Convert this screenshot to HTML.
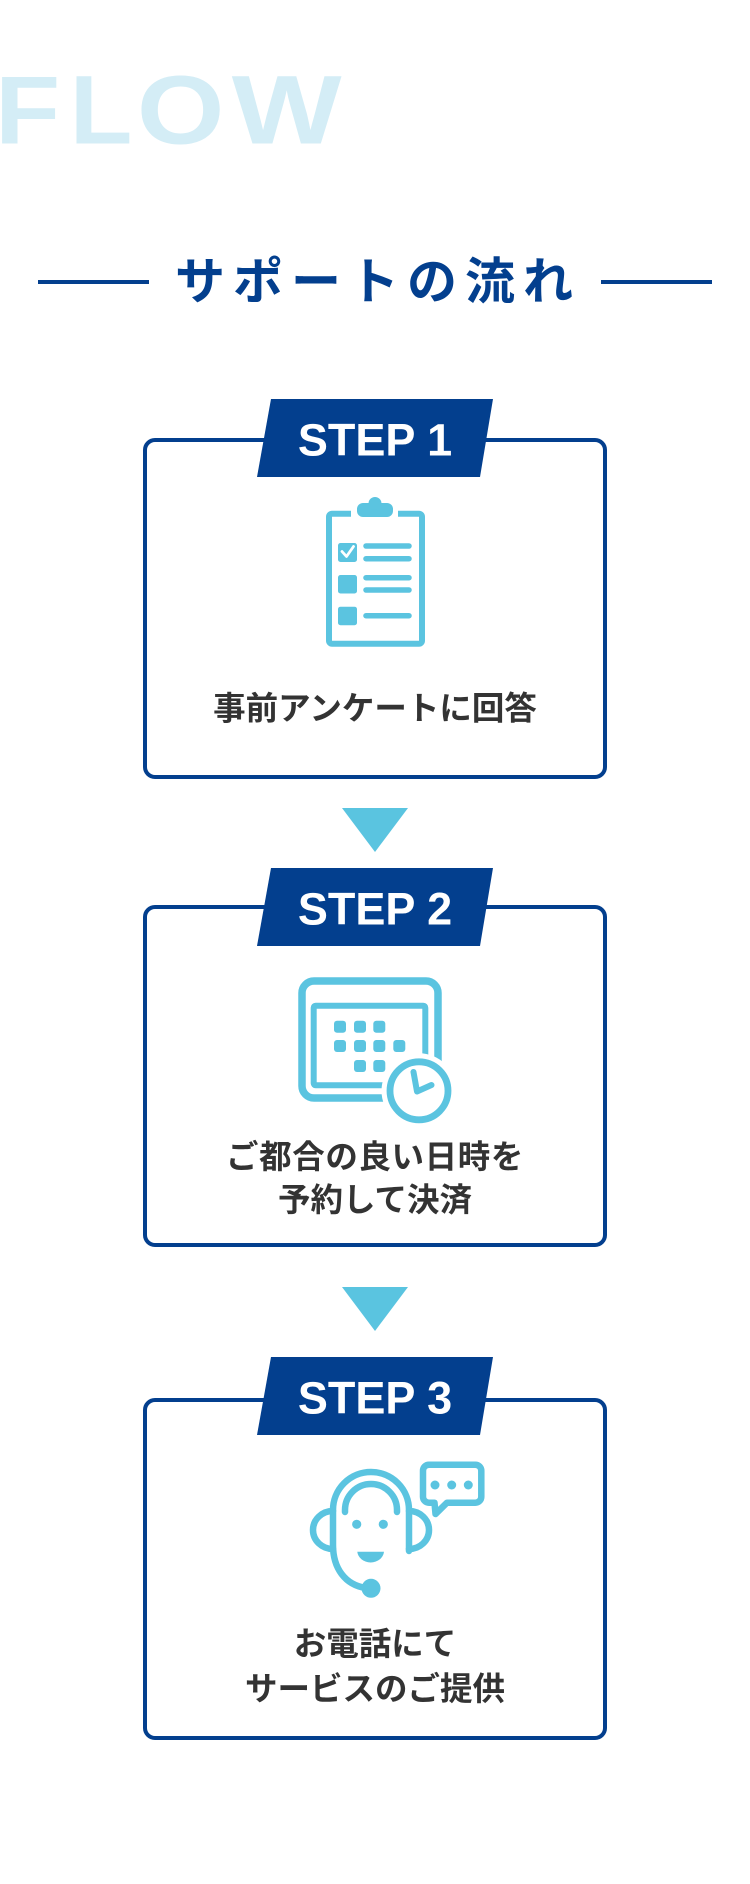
<!DOCTYPE html>
<html>
<head>
<meta charset="utf-8">
<style>
  html,body{margin:0;padding:0;background:#fff;}
  body{width:750px;height:1884px;overflow:hidden;}
  svg{display:block;}
  .jp{font-family:"Liberation Sans","Noto Sans CJK JP",sans-serif;font-weight:700;}
  .en{font-family:"Liberation Sans",sans-serif;font-weight:700;}
</style>
</head>
<body>
<svg width="750" height="1884" viewBox="0 0 750 1884" xmlns="http://www.w3.org/2000/svg">
  <!-- FLOW -->
  <g class="en" fill="#d4edf6" font-size="97">
    <text transform="translate(2.7,143.3) scale(1.1,1)" x="-7">F</text>
    <text transform="translate(77,143.3) scale(1.06,1)" x="-7">L</text>
    <text transform="translate(142,143.3) scale(1.16,1)" x="-4.4">O</text>
    <text transform="translate(233,143.3) scale(1.2,1)" x="-1">W</text>
  </g>

  <!-- Title -->
  <rect x="38" y="280" width="111" height="4" fill="#033f8e"/>
  <rect x="601" y="280" width="111" height="4" fill="#033f8e"/>
  <text class="jp" x="175" y="299" font-size="50" letter-spacing="8" fill="#033f8e">サポートの流れ</text>

  <!-- STEP 1 -->
  <rect x="145" y="440" width="460" height="337" rx="10" fill="#fff" stroke="#033f8e" stroke-width="4"/>
  <polygon points="271,399 493,399 480,477 257,477" fill="#033f8e"/>
  <text class="en" x="375" y="455.5" font-size="45" fill="#fff" text-anchor="middle">STEP 1</text>

  <!-- clipboard icon -->
  <g fill="#5bc4e0" stroke="none">
    <rect x="329" y="513.7" width="93" height="130" rx="3" fill="none" stroke="#5bc4e0" stroke-width="6"/>
    <rect x="351" y="507" width="47" height="12" fill="#fff"/>
    <rect x="357" y="503" width="36" height="14" rx="6"/>
    <circle cx="375" cy="503.5" r="6.5"/>
    <rect x="338" y="543" width="19" height="19" rx="2.5"/>
    <polyline points="342,551.5 346.5,556.5 353.5,546.5" fill="none" stroke="#fff" stroke-width="2.8" stroke-linecap="round" stroke-linejoin="round"/>
    <rect x="338" y="575" width="19" height="18.5" rx="2.5"/>
    <rect x="338" y="606.7" width="19" height="18.5" rx="2.5"/>
    <g stroke="#5bc4e0" stroke-width="5.5" stroke-linecap="round">
      <line x1="366" y1="546" x2="409" y2="546"/>
      <line x1="366" y1="558.7" x2="409" y2="558.7"/>
      <line x1="366" y1="577.7" x2="409" y2="577.7"/>
      <line x1="366" y1="590" x2="409" y2="590"/>
      <line x1="366" y1="615.7" x2="409" y2="615.7"/>
    </g>
  </g>
  <text class="jp" x="375" y="719.5" font-size="32.5" fill="#333" text-anchor="middle">事前アンケートに回答</text>

  <!-- arrow 1 -->
  <polygon points="342,808 408,808 375,852" fill="#5ac4e0"/>

  <!-- STEP 2 -->
  <rect x="145" y="907" width="460" height="338" rx="10" fill="#fff" stroke="#033f8e" stroke-width="4"/>
  <polygon points="271,868 493,868 480,946 257,946" fill="#033f8e"/>
  <text class="en" x="375" y="924.5" font-size="45" fill="#fff" text-anchor="middle">STEP 2</text>

  <!-- calendar icon -->
  <g>
    <rect x="302" y="981" width="136" height="117" rx="12" fill="none" stroke="#5bc4e0" stroke-width="7.5"/>
    <rect x="313.7" y="1005.7" width="111.6" height="79.6" rx="2" fill="none" stroke="#5bc4e0" stroke-width="6"/>
    <g fill="#5bc4e0">
      <rect x="334" y="1020.7" width="12" height="12" rx="3"/>
      <rect x="354" y="1020.7" width="12" height="12" rx="3"/>
      <rect x="373.3" y="1020.7" width="12" height="12" rx="3"/>
      <rect x="334" y="1040" width="12" height="12" rx="3"/>
      <rect x="354" y="1040" width="12" height="12" rx="3"/>
      <rect x="373.3" y="1040" width="12" height="12" rx="3"/>
      <rect x="393.3" y="1040" width="12" height="12" rx="3"/>
      <rect x="354" y="1060" width="12" height="12" rx="3"/>
      <rect x="373.3" y="1060" width="12" height="12" rx="3"/>
    </g>
    <circle cx="419" cy="1090.8" r="37.5" fill="#fff"/>
    <circle cx="419" cy="1090.8" r="29" fill="#fff" stroke="#5bc4e0" stroke-width="6.8"/>
    <polyline points="413.5,1072 417,1091.5 431.5,1085" fill="none" stroke="#5bc4e0" stroke-width="6" stroke-linecap="round" stroke-linejoin="round"/>
  </g>
  <text class="jp" x="375" y="1168" font-size="32.5" letter-spacing="0.6" fill="#333" text-anchor="middle">ご都合の良い日時を</text>
  <text class="jp" x="375" y="1211" font-size="32.5" fill="#333" text-anchor="middle">予約して決済</text>

  <!-- arrow 2 -->
  <polygon points="342,1287 408,1287 375,1331" fill="#5ac4e0"/>

  <!-- STEP 3 -->
  <rect x="145" y="1400" width="460" height="338" rx="10" fill="#fff" stroke="#033f8e" stroke-width="4"/>
  <polygon points="271,1357 493,1357 480,1435 257,1435" fill="#033f8e"/>
  <text class="en" x="375" y="1413.5" font-size="45" fill="#fff" text-anchor="middle">STEP 3</text>

  <!-- headset icon -->
  <g fill="none" stroke="#5bc4e0" stroke-width="6.5" stroke-linecap="round" stroke-linejoin="round">
    <path d="M409,1551 L409,1510 A38,38 0 0 0 333,1510 L333,1545 C333,1568 345,1585 366,1588"/>
    <path d="M345,1512 L345,1510 A26,26 0 0 1 397,1510 L397,1512"/>
    <path d="M333,1511 A20,19 0 0 0 333,1549"/>
    <path d="M409,1511 A20,19 0 0 1 409,1549"/>
    <path d="M429,1464.7 L475.3,1464.7 A6,6 0 0 1 481.3,1470.7 L481.3,1496.7 A6,6 0 0 1 475.3,1502.7 L447,1502.7 L435.5,1514 L434.5,1502.7 L429,1502.7 A6,6 0 0 1 423,1496.7 L423,1470.7 A6,6 0 0 1 429,1464.7 Z"/>
  </g>
  <g fill="#5bc4e0">
    <circle cx="371" cy="1588.3" r="9.5"/>
    <circle cx="356.7" cy="1524.3" r="4.6"/>
    <circle cx="383.3" cy="1524.3" r="4.6"/>
    <path d="M384,1551.7 L357.3,1551.7 A13.4,11.8 0 0 0 384,1551.7 Z"/>
    <circle cx="435" cy="1485" r="4.5"/>
    <circle cx="451.7" cy="1485" r="4.5"/>
    <circle cx="468.3" cy="1485" r="4.5"/>
  </g>
  <text class="jp" x="375" y="1655" font-size="32.5" fill="#333" text-anchor="middle">お電話にて</text>
  <text class="jp" x="375" y="1700" font-size="32.5" fill="#333" text-anchor="middle">サービスのご提供</text>
</svg>
</body>
</html>
